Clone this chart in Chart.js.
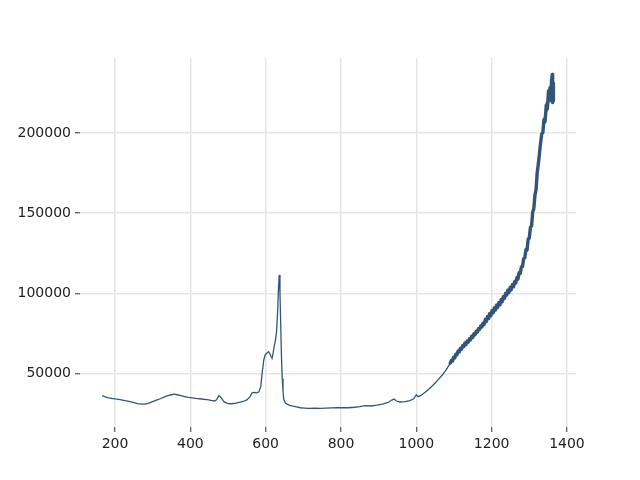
<!DOCTYPE html>
<html>
<head>
<meta charset="utf-8">
<script src="https://cdn.jsdelivr.net/npm/chart.js@4.4.1/dist/chart.umd.min.js"></script>
<style>
  html, body { margin: 0; padding: 0; background: #ffffff; }
  canvas { display: block; }
</style>
</head>
<body>
<canvas id="c" width="640" height="480"></canvas>
<script>
// Wavenumber (x) and intensity (y)
const wavenumbers = [
  166,172,180,190,200,210,220,230,240,250,260,270,280,290,300,310,320,330,340,350,
  357,365,375,385,395,405,415,425,435,445,455,465,470,476,482,490,500,510,520,530,
  540,550,558,564,570,576,582,587,591,595,599,604,608,611,614,617,620,623,626,629,
  632,634,636,638,640,642,644,646,648,652,658,664,672,682,692,702,715,730,745,760,
  775,790,805,820,835,850,865,880,895,910,925,935,941,947,957,970,983,993,1000,1005,
  1011,1020,1030,1040,1050,1060,1070,1080,1090,
  1093,1096,1099,1102,1105,1108,1111,1114,1117,1120,1123,1126,1129,1132,1135,1138,
  1141,1144,1147,1150,1153,1156,1159,1162,1165,1168,1171,1174,1177,1180,1183,1186,
  1189,1192,1195,1198,1201,1204,1207,1210,1213,1216,1219,1222,1225,1228,1231,1234,
  1237,1240,1243,1246,1249,1252,1255,1258,1261,1264,1267,1270,1273,1276,1279,1282,
  1285,1288,1291,1294,1297,1300,1303,1306,1309,1312,1315,1318,1321,1324,1327,1330,
  1333,1336,1339,1342,1345,1348,1351,1353,1355,1357,1359,1361,1362,1363,1364
];
const intensities = [
  36300,35600,35000,34600,34200,33900,33500,33000,32500,31900,31300,30900,31000,31600,32500,33400,34300,35300,36200,36800,
  37200,36800,36300,35700,35100,34900,34500,34300,34000,33800,33300,32900,33800,36300,34800,32300,31300,31200,31600,32100,
  32600,33600,35500,38000,38300,38000,38600,42000,51000,58500,61800,63000,63600,62400,60800,59500,63000,67500,71000,76500,
  90000,103000,111500,100000,80000,60000,47000,39000,34000,31800,30800,30200,29700,29300,28700,28500,28300,28400,28300,28500,
  28600,28700,28800,28700,29000,29400,30000,29800,30300,31000,32000,33500,34100,32900,32300,32500,33200,34300,36800,35600,
  36200,37700,39600,41800,44100,46700,49400,52600,56500,
  58200,57800,60200,59700,62100,61700,64000,63500,65700,65200,67400,66800,69000,68200,70300,69600,
  71700,71000,73200,72600,74800,74200,76400,75800,78000,77500,79700,79100,81400,80500,83700,82400,
  85600,84300,87400,86100,89200,87900,90900,89600,92600,91200,94200,92900,96000,94800,97900,96800,
  100000,98900,101900,100600,103600,102300,105400,104100,107300,106400,109800,108900,112900,112500,116500,116700,
  121600,122100,127200,126900,133800,134400,141200,141900,150700,152800,161200,164800,175200,180800,187200,193800,
  199400,200200,208400,207000,217400,215000,226200,220000,228200,222000,232400,236500,219000,231000,220000
];
const xTicks = [200, 400, 600, 800, 1000, 1200, 1400];
const yTicks = [50000, 100000, 150000, 200000];

const points = wavenumbers.map((x, i) => ({ x: x, y: intensities[i] }));
const noisyPart = points.filter(p => p.x >= 1090);

new Chart(document.getElementById('c'), {
  type: 'line',
  data: {
    datasets: [{
      data: points,
      borderColor: '#34557a',
      borderWidth: 1.3,
      pointRadius: 0,
      tension: 0,
      fill: false
    }, {
      data: noisyPart,
      borderColor: '#34557a',
      borderWidth: 3.4,
      borderJoinStyle: 'round',
      borderCapStyle: 'round',
      pointRadius: 0,
      tension: 0,
      fill: false
    }]
  },
  options: {
    responsive: false,
    animation: false,
    layout: { padding: { top: 58, right: 64, left: 0, bottom: 0 } },
    plugins: { legend: { display: false }, tooltip: { enabled: false } },
    scales: {
      x: {
        type: 'linear',
        min: 107,
        max: 1424,
        border: { display: false },
        grid: { color: '#e6e6e6', lineWidth: 1.5, tickColor: '#333333', tickLength: 5, tickWidth: 1 },
        afterBuildTicks: (axis) => { axis.ticks = xTicks.map(v => ({ value: v })); },
        afterFit: (axis) => { axis.height = 53; },
        ticks: {
          includeBounds: false,
          padding: 4,
          color: '#222222',
          font: { family: 'DejaVu Sans', size: 14 },
          maxRotation: 0,
          callback: (v) => String(v)
        }
      },
      y: {
        type: 'linear',
        min: 16700,
        max: 246700,
        border: { display: false },
        grid: { color: '#e6e6e6', lineWidth: 1.5, tickColor: '#333333', tickLength: 5, tickWidth: 1 },
        afterBuildTicks: (axis) => { axis.ticks = yTicks.map(v => ({ value: v })); },
        afterFit: (axis) => { axis.width = 80; },
        ticks: {
          includeBounds: false,
          padding: 4,
          color: '#222222',
          font: { family: 'DejaVu Sans', size: 14 },
          callback: (v) => String(v)
        }
      }
    }
  }
});
</script>
</body>
</html>
